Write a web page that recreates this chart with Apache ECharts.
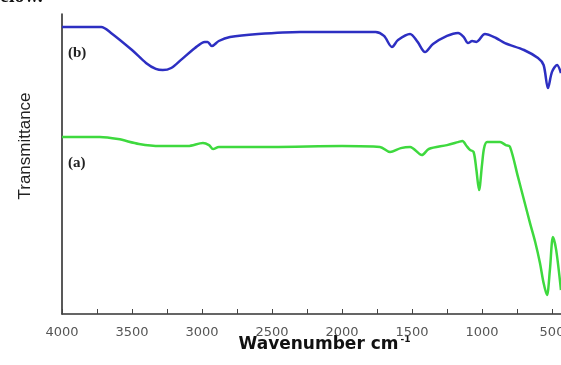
<!DOCTYPE html>
<html>
<head>
  <meta charset="UTF-8">
  <title>FTIR spectra</title>
  <style>
    body { margin: 0; background: #fff; }
    #main { width: 561px; height: 365px; }
  </style>
</head>
<body>
  <div id="main"></div>
  <script src="https://cdn.jsdelivr.net/npm/echarts@6/dist/echarts.min.js"></script>
  <script>
    // curve (b), blue
    const wnB = [4000, 3720, 3650, 3500, 3400, 3330, 3280, 3220, 3150, 3050, 2980, 2960, 2930, 2880, 2800, 2600, 2300,
                 1760, 1700, 1643, 1600, 1514, 1460, 1407, 1350, 1250, 1171, 1130, 1100, 1070, 1040, 979, 900, 836,
                 700, 600, 560, 529, 500, 464, 436];
    const tB = [95.7, 95.7, 93.7, 88, 83.7, 81.7, 81.3, 82, 84.7, 88.7, 90.7, 90.7, 89.3, 91, 92.3, 93.3, 94,
                94, 92.7, 89, 91.3, 93.3, 90.7, 87.3, 90, 92.7, 93.7, 92.3, 90.3, 91, 90.7, 93.3, 92, 90.3,
                88, 85.3, 83, 75.3, 80.7, 83, 80.3];

    // curve (a), green
    const wnA = [4000, 3730, 3600, 3450, 3300, 3100, 2993, 2950, 2921, 2880, 2500, 2000, 1729, 1657, 1580, 1514,
                 1429, 1380, 1250, 1171, 1140, 1110, 1086, 1060, 1040, 1021, 1000, 985, 964, 871, 830, 800,
                 743, 700, 657, 620, 586, 560, 536, 515, 493, 470, 436];
    const tA = [59, 59, 58.3, 56.7, 56, 56, 57, 56.3, 55, 55.7, 55.7, 56, 55.7, 54, 55.3, 55.7,
                53, 55, 56.3, 57.3, 57.7, 56, 54.7, 54, 48, 41.3, 49.7, 55.3, 57.3, 57.3, 56.3, 55.7,
                45.7, 38, 30.3, 24, 17, 10.3, 6.3, 14.7, 25.7, 21.3, 8];

    const xTicks = [4000, 3500, 3000, 2500, 2000, 1500, 1000, 500];

    const pairs = (xs, ys) => xs.map((x, i) => [x, ys[i]]);

    const chart = echarts.init(document.getElementById('main'));
    chart.setOption({
      animation: false,
      grid: { left: 62, top: 14, bottom: 51, right: -26, outerBoundsMode: 'none', containLabel: false },
      xAxis: {
        type: 'value',
        inverse: true,
        min: 250,
        max: 4000,
        interval: 250,
        name: 'Wavenumber cm{sup|-1}',
        nameLocation: 'middle',
        nameGap: 21,
        nameMoveOverlap: false,
        nameTextStyle: {
          fontFamily: 'DejaVu Sans',
          fontWeight: 'bold',
          fontSize: 17,
          color: '#111',
          rich: {
            sup: { fontFamily: 'DejaVu Sans', fontSize: 9, fontWeight: 'bold', color: '#111', verticalAlign: 'top', padding: [0, 0, 10, 2] }
          }
        },
        axisLine: { onZero: false, lineStyle: { color: '#333', width: 1.5 } },
        axisTick: { inside: true, length: 5, lineStyle: { color: '#444' } },
        axisLabel: {
          margin: 12,
          fontFamily: 'DejaVu Sans',
          fontSize: 13,
          color: '#555',
          formatter: v => xTicks.includes(v) ? String(v) : ''
        },
        splitLine: { show: false }
      },
      yAxis: {
        type: 'value',
        min: 0,
        max: 100,
        axisLine: { show: true, onZero: false, lineStyle: { color: '#222', width: 1.5 } },
        axisTick: { show: false },
        axisLabel: { show: false },
        splitLine: { show: false }
      },
      series: [
        {
          name: '(b)',
          type: 'line',
          data: pairs(wnB, tB),
          showSymbol: false,
          smooth: 0.3,
          lineStyle: { color: '#2d2fc2', width: 2.5 }
        },
        {
          name: '(a)',
          type: 'line',
          data: pairs(wnA, tA),
          showSymbol: false,
          smooth: 0.3,
          lineStyle: { color: '#3ed93e', width: 2.5 }
        }
      ],
      graphic: [
        {
          type: 'text', x: 0, y: 7,
          style: { text: 'elow.', font: 'bold 20px "Liberation Serif"', fill: '#111', verticalAlign: 'bottom' }
        },
        {
          type: 'text', x: 25, y: 146, rotation: Math.PI / 2,
          style: {
            text: 'Transmittance', font: '17px "Liberation Sans"',
            fill: '#222', align: 'center', verticalAlign: 'middle'
          }
        },
        {
          type: 'text', x: 68, y: 53,
          style: { text: '(b)', font: 'bold 15px "Liberation Serif"', fill: '#222', verticalAlign: 'middle' }
        },
        {
          type: 'text', x: 68, y: 163,
          style: { text: '(a)', font: 'bold 15px "Liberation Serif"', fill: '#222', verticalAlign: 'middle' }
        }
      ]
    });
  </script>
</body>
</html>
